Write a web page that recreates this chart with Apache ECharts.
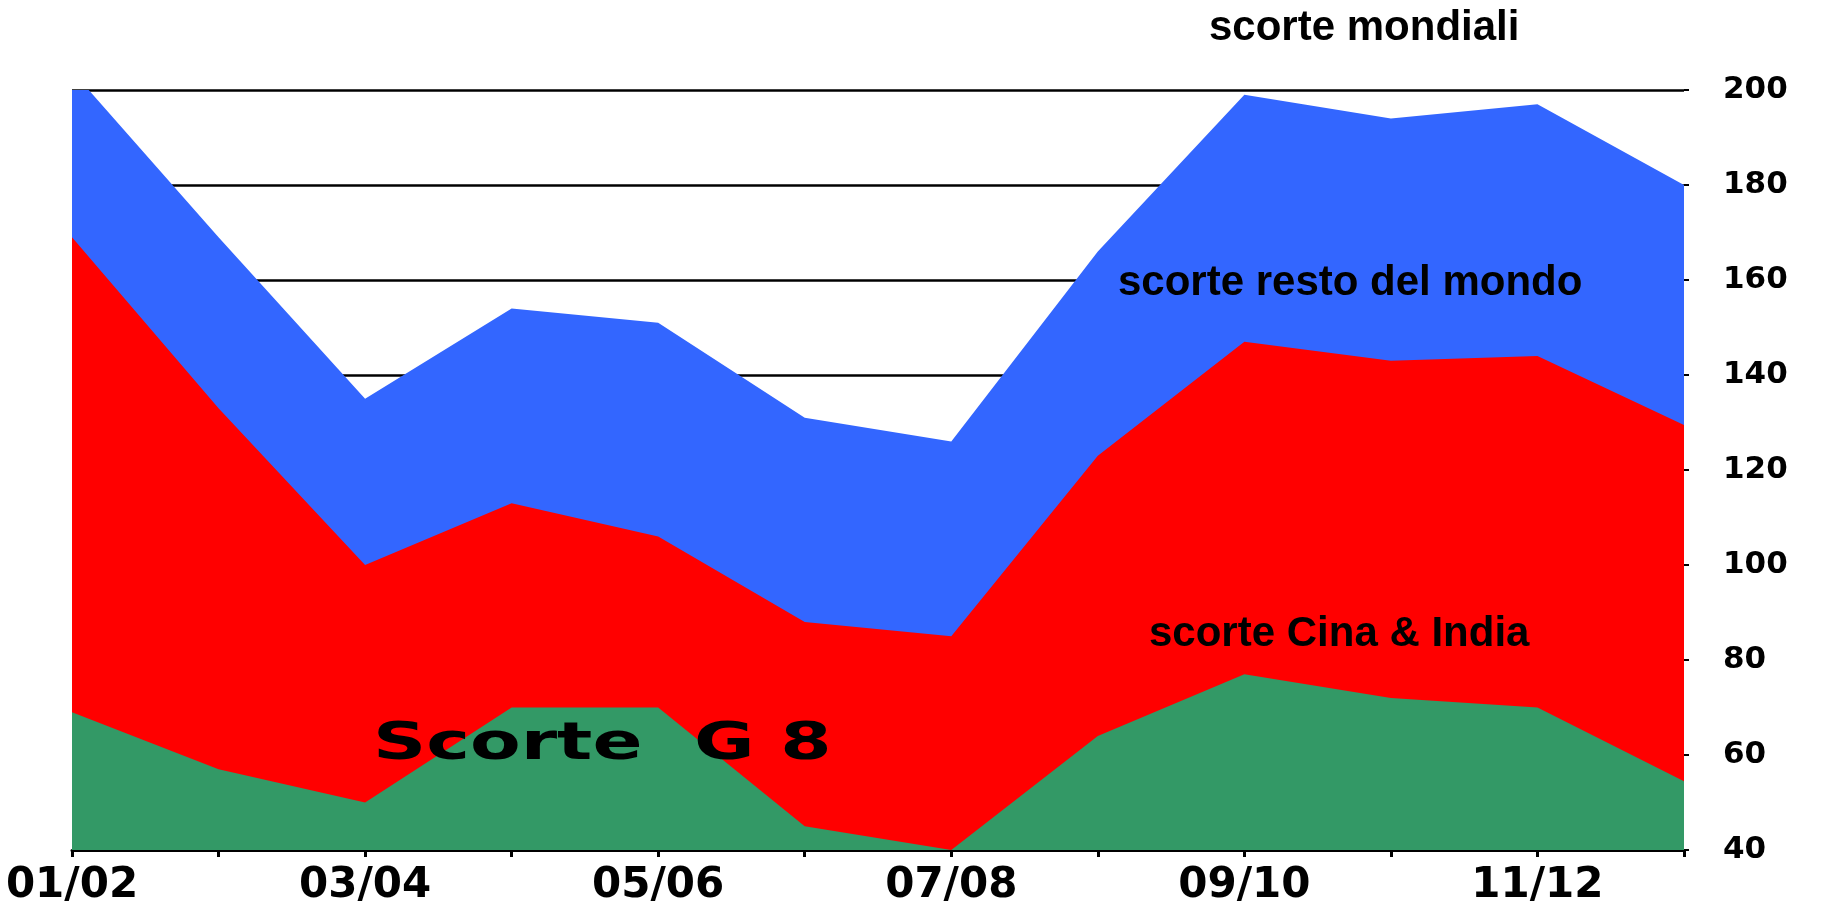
<!DOCTYPE html>
<html>
<head>
<meta charset="utf-8">
<script src="https://cdn.jsdelivr.net/npm/echarts@6/dist/echarts.min.js"></script>
<style>
  html, body { margin: 0; padding: 0; background: #fff; }
  #chart { width: 1822px; height: 904px; }
</style>
</head>
<body>
<div id="chart"></div>
<script>
// anni (campagne)
const years = ['01/02', '02/03', '03/04', '04/05', '05/06', '06/07', '07/08', '08/09', '09/10', '10/11', '11/12', '12/13'];
// valori cumulati
const mondiali = [204, 169, 135, 154, 151, 131, 126, 166, 199, 194, 197, 180];
const cinaIndia = [169, 133, 100, 113, 106, 88, 85, 123, 147, 143, 144, 129.5];
const g8 = [69, 57, 50, 70, 70, 45, 40, 64, 77, 72, 70, 54.5];
const yTicks = { min: 40, max: 200, step: 20 };

const chart = echarts.init(document.getElementById('chart'));

function area(name, data, color) {
  return {
    name: name,
    type: 'line',
    data: data,
    symbol: 'none',
    lineStyle: { width: 0 },
    itemStyle: { color: color },
    areaStyle: { color: color, opacity: 1, origin: 'start' },
  };
}

const option = {
  animation: false,
  backgroundColor: '#fff',
  grid: { left: 72, right: 138, top: 90, bottom: 54, containLabel: false, outerBoundsMode: 'none' },
  xAxis: {
    type: 'category',
    boundaryGap: false,
    data: years,
    axisLine: { lineStyle: { color: '#000', width: 3 } },
    axisTick: { interval: 0, length: 7, lineStyle: { color: '#000', width: 3 } },
    axisLabel: {
      interval: 1,
      margin: 15,
      color: '#000',
      fontFamily: 'DejaVu Sans',
      fontWeight: 'bold',
      fontSize: 42,
    },
    splitLine: { show: false },
  },
  yAxis: {
    type: 'value',
    position: 'right',
    min: yTicks.min,
    max: yTicks.max,
    interval: yTicks.step,
    axisLine: { show: false },
    axisTick: { show: true, length: 5, lineStyle: { color: '#000', width: 2 } },
    axisLabel: {
      margin: 39,
      color: '#000',
      fontFamily: 'DejaVu Sans',
      fontWeight: 'bold',
      fontSize: 31,
    },
    splitLine: { show: true, lineStyle: { color: '#000', width: 2.5 } },
  },
  series: [
    area('scorte mondiali', mondiali, '#3366FF'),
    area('scorte Cina & India', cinaIndia, '#FF0000'),
    area('Scorte G 8', g8, '#339966'),
  ],
  graphic: [
    {
      type: 'text', left: 1209, top: 7, z: 100,
      style: { text: 'scorte mondiali', font: 'bold 42px "Liberation Sans", Arial', fill: '#000' },
    },
    {
      type: 'text', left: 1118, top: 262, z: 100,
      style: { text: 'scorte resto del mondo', font: 'bold 42px "Liberation Sans", Arial', fill: '#000' },
    },
    {
      type: 'text', left: 1149, top: 613, z: 100,
      style: { text: 'scorte Cina & India', font: 'bold 42px "Liberation Sans", Arial', fill: '#000' },
    },
    {
      type: 'text', x: 373, y: 719, scaleX: 1.42, z: 100,
      style: { text: 'Scorte  G 8', font: 'bold 52px "DejaVu Sans"', fill: '#000' },
    },
  ],
};

chart.setOption(option);
</script>
</body>
</html>
